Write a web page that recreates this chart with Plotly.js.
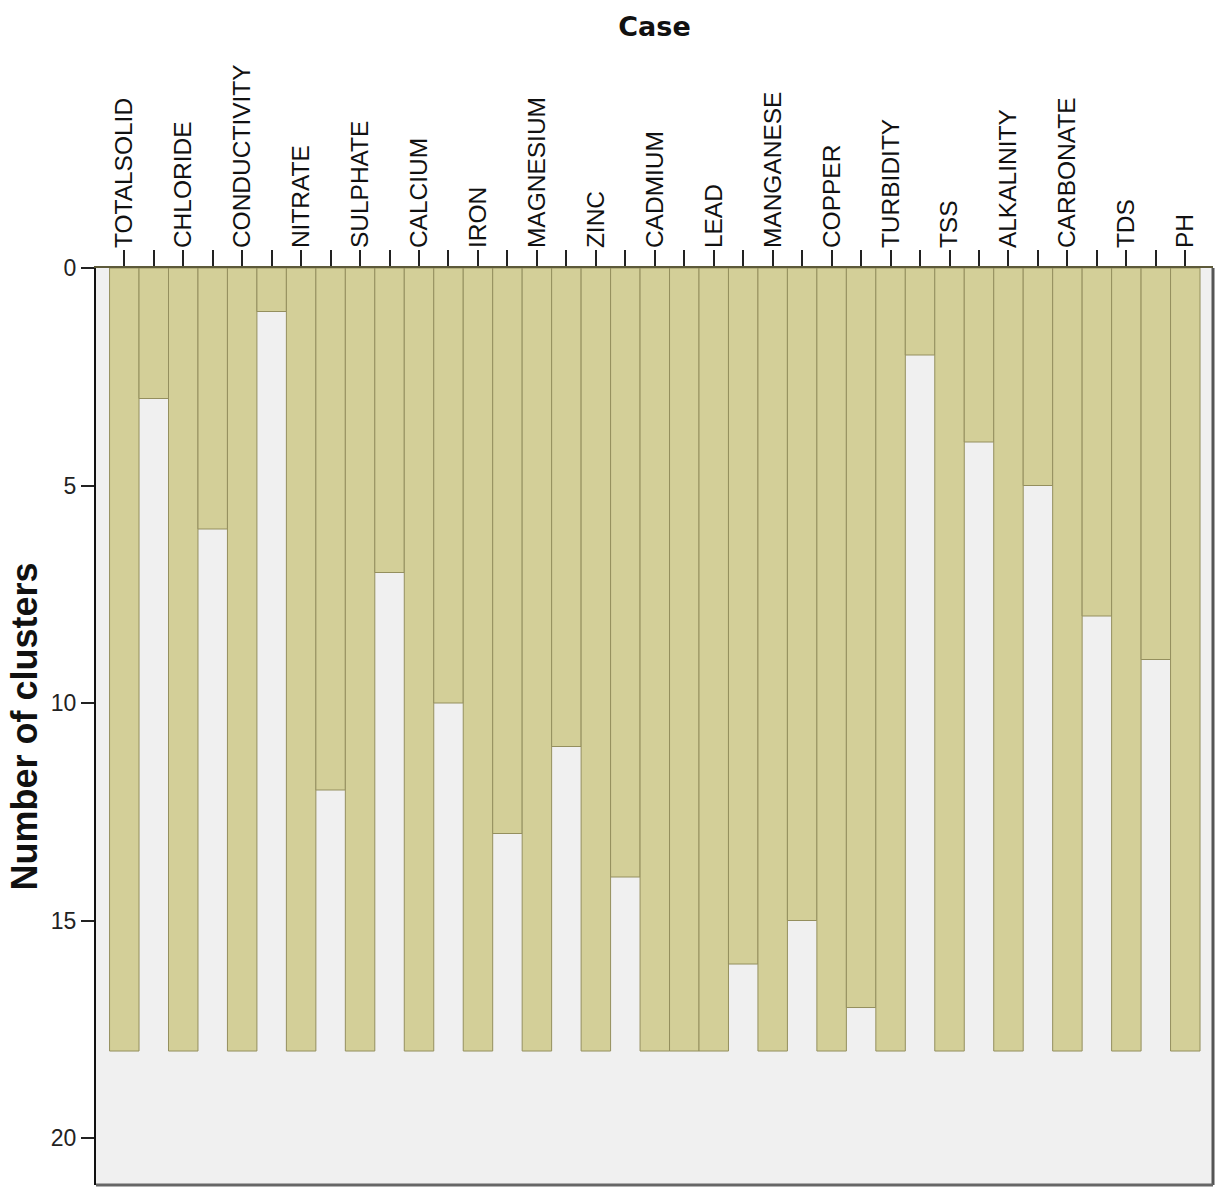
<!DOCTYPE html>
<html>
<head>
<meta charset="utf-8">
<script src="https://cdn.plot.ly/plotly-3.0.1.min.js"></script>
<style>html,body{margin:0;padding:0;background:#fff;}#chart{width:1217px;height:1187px;}</style>
</head>
<body>
<div id="chart"></div>
<script>
// Cases in icicle order (left to right)
const cases = ["TOTALSOLID","CHLORIDE","CONDUCTIVITY","NITRATE","SULPHATE","CALCIUM","IRON","MAGNESIUM","ZINC","CADMIUM","LEAD","MANGANESE","COPPER","TURBIDITY","TSS","ALKALINITY","CARBONATE","TDS","PH"];
// Depth of each case column (number of clusters down to which it is drawn)
const caseDepth = [18,18,18,18,18,18,18,18,18,18,18,18,18,18,18,18,18,18,18];
// Depth of each gap column between neighbouring cases (cluster level at which they join)
const joinLevel = [3,6,1,12,7,10,13,11,14,18,16,15,17,2,4,5,8,9];
const yTicks = [0,5,10,15,20];

// Interleave case columns and join columns
const xs = [], ys = [], tickText = [];
for (let i = 0; i < cases.length; i++) {
  xs.push(xs.length); ys.push(caseDepth[i]); tickText.push(cases[i]);
  if (i < joinLevel.length) { xs.push(xs.length); ys.push(joinLevel[i]); tickText.push(""); }
}

const trace = {
  type: "bar", x: xs, y: ys, base: 0, width: 1,
  marker: {color: "#d3cf98", line: {color: "#948f5e", width: 1}},
  hoverinfo: "skip"
};

const layout = {
  width: 1217, height: 1187,
  margin: {l: 96, r: 4, t: 268, b: 2},
  paper_bgcolor: "#ffffff", plot_bgcolor: "#f0f0f0",
  showlegend: false, bargap: 0,
  font: {family: "Liberation Sans, Arial, sans-serif", color: "#222"},
  xaxis: {
    side: "top", range: [-0.96, 36.94], tickmode: "array",
    tickvals: xs, ticktext: tickText, tickangle: -90,
    ticks: "outside", ticklen: 16, tickwidth: 2, tickcolor: "#222",
    ticklabelstandoff: -3,
    tickfont: {size: 24.5, family: "Liberation Sans, Arial, sans-serif", color: "#111"},
    showgrid: false, zeroline: false,
    showline: true, linecolor: "#5d5a3a", linewidth: 2,
    title: {text: "Case", standoff: 20, font: {size: 27, family: "DejaVu Sans, sans-serif", weight: "bold", color: "#111"}}
  },
  yaxis: {
    range: [21.08, 0], tickmode: "array", tickvals: yTicks,
    ticks: "outside", ticklen: 13, tickwidth: 2, tickcolor: "#222",
    tickfont: {size: 23, color: "#222"},
    showgrid: false, zeroline: false,
    showline: true, linecolor: "#111", linewidth: 2,
    title: {text: "Number of clusters", standoff: 2, font: {size: 36, family: "Liberation Sans, Arial, sans-serif", weight: "bold", color: "#111"}}
  },
  shapes: [
    {type: "line", xref: "paper", yref: "paper", x0: 1, x1: 1, y0: 0, y1: 1, line: {color: "#555", width: 3}},
    {type: "line", xref: "paper", yref: "paper", x0: 0, x1: 1, y0: 0, y1: 0, line: {color: "#666", width: 3}}
  ]
};

Plotly.newPlot("chart", [trace], layout, {displayModeBar: false, staticPlot: true});
</script>
</body>
</html>
